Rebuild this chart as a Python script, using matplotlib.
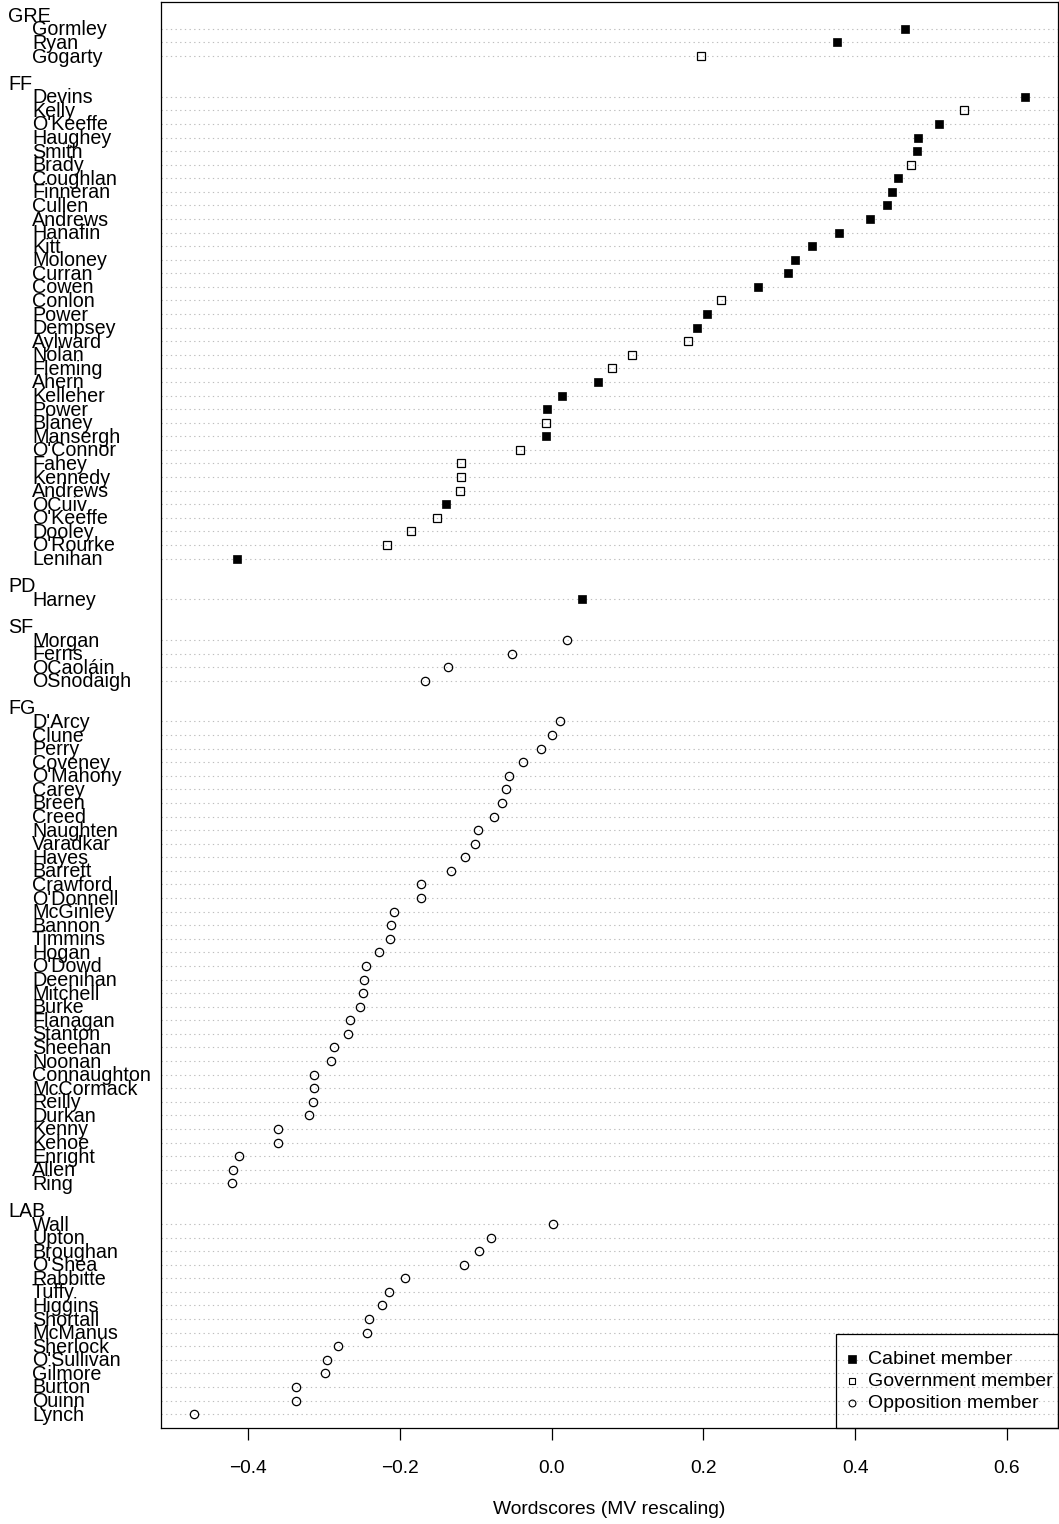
import matplotlib
matplotlib.use("Agg")
import matplotlib.pyplot as plt
from matplotlib.transforms import blended_transform_factory
from matplotlib.patches import Rectangle
from matplotlib.lines import Line2D

plt.rcParams['font.family'] = ['Liberation Sans', 'DejaVu Sans']

# ---- data (top-to-bottom display order) ----
group_labels = ["GRE", "FF", "PD", "SF", "FG", "LAB"]

gre_names = ["Gormley", "Ryan", "Gogarty"]
gre_scores = [0.465, 0.376, 0.197]
gre_types = ["C", "C", "G"]

ff_names = ["Devins", "Kelly", "O'Keeffe", "Haughey", "Smith", "Brady", "Coughlan",
            "Finneran", "Cullen", "Andrews", "Hanafin", "Kitt", "Moloney", "Curran",
            "Cowen", "Conlon", "Power", "Dempsey", "Aylward", "Nolan", "Fleming",
            "Ahern", "Kelleher", "Power", "Blaney", "Mansergh", "O'Connor", "Fahey",
            "Kennedy", "Andrews", "OCuiv", "O'Keeffe", "Dooley", "O'Rourke", "Lenihan"]
ff_scores = [0.624, 0.543, 0.511, 0.483, 0.482, 0.474, 0.457,
             0.449, 0.442, 0.419, 0.379, 0.343, 0.321, 0.311,
             0.272, 0.223, 0.205, 0.192, 0.180, 0.106, 0.080,
             0.0615, 0.014, -0.0057, -0.0074, -0.007, -0.041, -0.119,
             -0.120, -0.121, -0.139, -0.151, -0.185, -0.217, -0.414]
ff_types = ["C", "G", "C", "C", "C", "G", "C",
            "C", "C", "C", "C", "C", "C", "C",
            "C", "G", "C", "C", "G", "G", "G",
            "C", "C", "C", "G", "C", "G", "G",
            "G", "G", "C", "G", "G", "G", "C"]

pd_names = ["Harney"]
pd_scores = [0.040]
pd_types = ["C"]

sf_names = ["Morgan", "Ferris", "OCaoláin", "OSnodaigh"]
sf_scores = [0.020, -0.052, -0.137, -0.167]
sf_types = ["O", "O", "O", "O"]

fg_names = ["D'Arcy", "Clune", "Perry", "Coveney", "O'Mahony", "Carey", "Breen", "Creed",
            "Naughten", "Varadkar", "Hayes", "Barrett", "Crawford", "O'Donnell",
            "McGinley", "Bannon", "Timmins", "Hogan", "O'Dowd", "Deenihan", "Mitchell",
            "Burke", "Flanagan", "Stanton", "Sheehan", "Noonan", "Connaughton",
            "McCormack", "Reilly", "Durkan", "Kenny", "Kehoe", "Enright", "Allen", "Ring"]
fg_scores = [0.011, 0.000, -0.014, -0.038, -0.056, -0.060, -0.065, -0.076,
             -0.097, -0.1005, -0.114, -0.132, -0.172, -0.172,
             -0.207, -0.212, -0.213, -0.227, -0.245, -0.2476, -0.248,
             -0.253, -0.265, -0.268, -0.287, -0.290, -0.313,
             -0.313, -0.314, -0.320, -0.360, -0.361, -0.412, -0.420, -0.4215]
fg_types = ["O"] * 35

lab_names = ["Wall", "Upton", "Broughan", "O'Shea", "Rabbitte", "Tuffy", "Higgins",
             "Shortall", "McManus", "Sherlock", "O'Sullivan", "Gilmore", "Burton",
             "Quinn", "Lynch"]
lab_scores = [0.002, -0.080, -0.096, -0.115, -0.193, -0.214, -0.2235,
              -0.2406, -0.243, -0.281, -0.296, -0.2986, -0.337, -0.337, -0.471]
lab_types = ["O"] * 15

legend_labels = ["Cabinet member", "Government member", "Opposition member"]
xticks = [-0.4, -0.2, 0.0, 0.2, 0.4, 0.6]
xlabel = "Wordscores (MV rescaling)"

groups = [(gre_names, gre_scores, gre_types), (ff_names, ff_scores, ff_types),
          (pd_names, pd_scores, pd_types), (sf_names, sf_scores, sf_types),
          (fg_names, fg_scores, fg_types), (lab_names, lab_scores, lab_types)]

# ---- layout (R dotchart style positions) ----
W, H = 1059, 1524
fig = plt.figure(figsize=(W / 100, H / 100), dpi=100)
ax = fig.add_axes([161 / W, 1 - 1427.7 / H, (1057.5 - 161) / W, (1427.7 - 1.7) / H])

rows = []   # (y, name, score, type)
glabs = []  # (y, label)
y = 0
for glabel, (names, scores, types) in reversed(list(zip(group_labels, groups))):
    for n, s, t in reversed(list(zip(names, scores, types))):
        y += 1
        rows.append((y, n, s, t))
    glabs.append((y + 1, glabel))
    y += 2

for (yy, n, s, t) in rows:
    ax.axhline(yy, color="#BEBEBE", lw=0.8, ls=(0, (1.2, 3.0)), zorder=1)

style = {
    "C": dict(marker="s", ms=6.4, mfc="black", mec="black", mew=0.5),
    "G": dict(marker="s", ms=6.4, mfc="none", mec="black", mew=0.9),
    "O": dict(marker="o", ms=6.0, mfc="none", mec="black", mew=0.9),
}
for (yy, n, s, t) in rows:
    ax.plot([s], [yy], ls="none", zorder=3, **style[t])

ax.set_xlim(-0.5146, 0.6665)
ax.set_ylim(0, 105)
ax.set_yticks([])
ax.set_xticks(xticks)
ax.set_xticklabels([f"{v:.1f}".replace("-", "\u2212") for v in xticks])
ax.tick_params(axis="x", direction="out", length=8.4, width=0.9, pad=14.5,
               labelsize=13.8, color="black")
for sp in ax.spines.values():
    sp.set_linewidth(0.9)
    sp.set_color("black")

tr = blended_transform_factory(fig.transFigure, ax.transData)
off = 0.48
for (yy, n, s, t) in rows:
    ax.text(32 / W, yy - off, n, transform=tr, ha="left", va="baseline",
            fontsize=14.2, clip_on=False)
for (yy, g) in glabs:
    ax.text(8 / W, yy - off, g, transform=tr, ha="left", va="baseline",
            fontsize=14.2, clip_on=False)

fig.text((161 + 1058) / 2 / W, 1 - 1510 / H, xlabel, ha="center", va="center",
         fontsize=13.9)

# ---- legend (transparent background, lower right) ----
ftr = fig.transFigure
lx0, lx1, ly0, ly1 = 835.7, 1057.5, 1334.3, 1427.7
fig.patches.append(Rectangle((lx0 / W, 1 - ly1 / H), (lx1 - lx0) / W, (ly1 - ly0) / H,
                             transform=ftr, fill=False, edgecolor="black", lw=0.9,
                             zorder=5))
leg_style = [dict(marker="s", ms=5.4, mfc="black", mec="black", mew=0.5),
             dict(marker="s", ms=4.7, mfc="none", mec="black", mew=0.8),
             dict(marker="o", ms=4.9, mfc="none", mec="black", mew=0.8)]
for i, (lab, st) in enumerate(zip(legend_labels, leg_style)):
    yc = 1359.3 + i * 22.0
    fig.add_artist(Line2D([851.7 / W], [1 - yc / H], transform=ftr, ls="none", **st))
    fig.text(867.7 / W, 1 - yc / H, lab, ha="left", va="center", fontsize=14.0)

fig.savefig("out.png", dpi=100)
